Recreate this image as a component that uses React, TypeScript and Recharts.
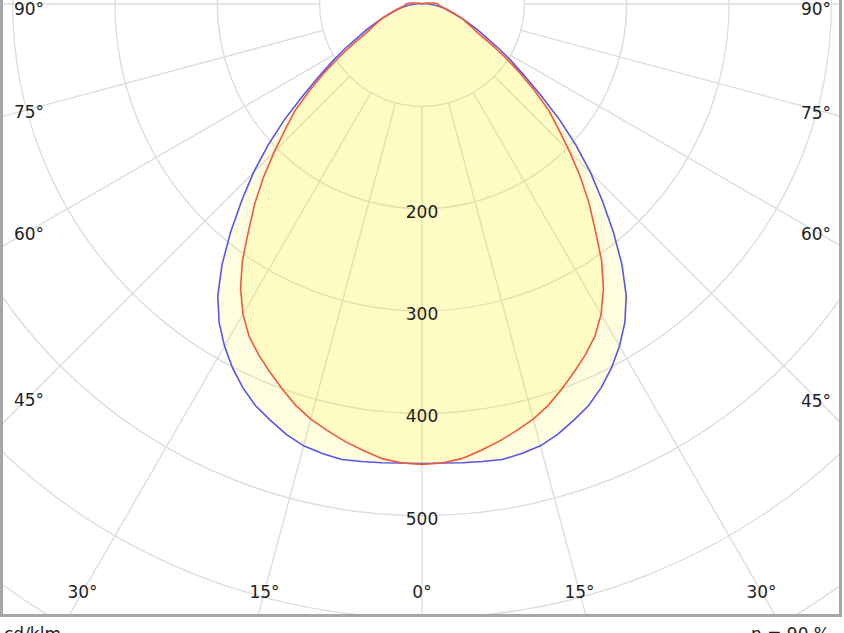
import React from 'react';
import { RadarChart, Radar, PolarGrid, PolarAngleAxis, PolarRadiusAxis } from 'recharts';

// gamma (deg from nadir) for one half plane, mirrored for the other half
const gammaHalf = [
  0, 2.5, 5, 7.5, 10, 12.5, 15, 17.5, 20, 22.5, 25, 27.5, 30, 32.5, 35, 37.5, 40, 42.5, 45,
  47.5, 50, 52.5, 55, 57.5, 60, 62.5, 65, 67.5, 70, 72.5, 75, 77.5, 80, 82.5, 85, 87.5, 90,
  95, 100, 105, 110, 115, 120, 125, 130, 135, 140, 145, 150, 155, 160, 165, 170, 175, 180,
];

// cd/klm, C0-C180 plane (blue)
const c0Values = [
  449, 449, 450, 451, 452, 450, 447, 441, 433, 425, 414, 401, 386, 369, 348, 321, 291, 261, 233,
  204, 175, 146, 122, 103, 86, 71, 60, 50, 42, 34, 28, 24, 20, 16, 12, 9, 6,
  4, 2, 1, 0, 0, 0, 0, 0, 0, 0, 0, 0, 0, 0, 0, 0, 0, 0,
];

// cd/klm, C90-C270 plane (red)
const c90Values = [
  450, 449, 446, 440, 434, 427, 420, 411, 400, 389, 378, 366, 350, 330, 306, 278, 254, 229, 204,
  181, 162, 138, 116, 95, 77, 62, 54, 47, 42, 36, 30, 26, 22, 19, 17, 16, 16,
  12, 6, 2, 0, 0, 0, 0, 0, 0, 0, 0, 0, 0, 0, 0, 0, 0, 0,
];

const radiusTicks = [100, 200, 300, 400, 500, 600, 700, 800];
const radiusLabels = [200, 300, 400, 500];
const angleTicks = [0, 15, 30, 45, 60, 75, 90, 105, 120, 135, 150, 165, 180,
  195, 210, 225, 240, 255, 270, 285, 300, 315, 330, 345];

const data = [
  ...gammaHalf.map((g, i) => ({ gamma: g, c0: c0Values[i], c90: c90Values[i] })),
  ...gammaHalf.slice(1, -1).map((g, i) => ({ gamma: 360 - g, c0: c0Values[i + 1], c90: c90Values[i + 1] })).reverse(),
];

const CX = 422;
const CY = 4;
const PX_PER_UNIT = 1.0233;
const font = { fontFamily: 'DejaVu Sans', fontSize: 17, fill: '#1e1e1e' };

const AngleTick = ({ x, y, payload }: any) => {
  const g = payload.value;
  const deg = g <= 180 ? g : 360 - g;
  if (deg > 90) return null;
  const dx = x - CX;
  const dy = y - CY;
  let tx = CX;
  let ty = 592;
  if (Math.abs(dx) > 0.01) {
    const side = dx > 0 ? 816 : 29;
    const t = (side - CX) / dx;
    const yy = CY + t * dy;
    if (yy <= 592) {
      tx = side;
      ty = Math.max(yy + 3, 9);
    } else {
      tx = CX + ((592 - CY) / dy) * dx;
    }
  }
  return (
    <text x={tx} y={ty + 6} textAnchor="middle" {...font}>
      {deg}°
    </text>
  );
};

const RadiusTick = ({ x, y, payload }: any) => {
  if (!radiusLabels.includes(payload.value)) return null;
  return (
    <text x={x} y={y + 9} textAnchor="middle" {...font}>
      {payload.value}
    </text>
  );
};

export default function App() {
  return (
    <div style={{ position: 'absolute', left: 0, top: 0, width: 844, height: 633, overflow: 'hidden', background: '#fff' }}>
      <div style={{ position: 'absolute', left: 0, top: 0 }}>
        <RadarChart
          width={841}
          height={615}
          data={data}
          cx={CX}
          cy={CY}
          innerRadius={100 * PX_PER_UNIT}
          outerRadius={800 * PX_PER_UNIT}
          startAngle={-90}
          endAngle={270}
          margin={{ top: 0, right: 0, bottom: 0, left: 0 }}
        >
          <PolarGrid gridType="circle" stroke="#dcdcdc" strokeWidth={1.3} />
          <Radar dataKey="c0" stroke="#5555ee" strokeWidth={1.6} fill="#ffee00" fillOpacity={0.12} dot={false} isAnimationActive={false} />
          <Radar dataKey="c90" stroke="#f2583a" strokeWidth={1.6} fill="#ffee00" fillOpacity={0.12} dot={false} isAnimationActive={false} />
          <PolarAngleAxis dataKey="gamma" type="number" domain={[0, 360]} ticks={angleTicks} axisLine={false} tickLine={false} tick={AngleTick} />
          <PolarRadiusAxis angle={-90} type="number" domain={[100, 800]} allowDataOverflow ticks={radiusTicks} tickCount={8} axisLine={false} tick={RadiusTick} />
        </RadarChart>
      </div>
      <div style={{ position: 'absolute', left: 0, top: -10, width: 842, height: 627, boxSizing: 'border-box', border: '3px solid #a6a6a6' }} />
      <svg width={844} height={633} style={{ position: 'absolute', left: 0, top: 0 }}>
        <text x={4} y={640} {...font}>cd/klm</text>
        <text x={830} y={640} textAnchor="end" {...font}>η = 90 %</text>
      </svg>
    </div>
  );
}
